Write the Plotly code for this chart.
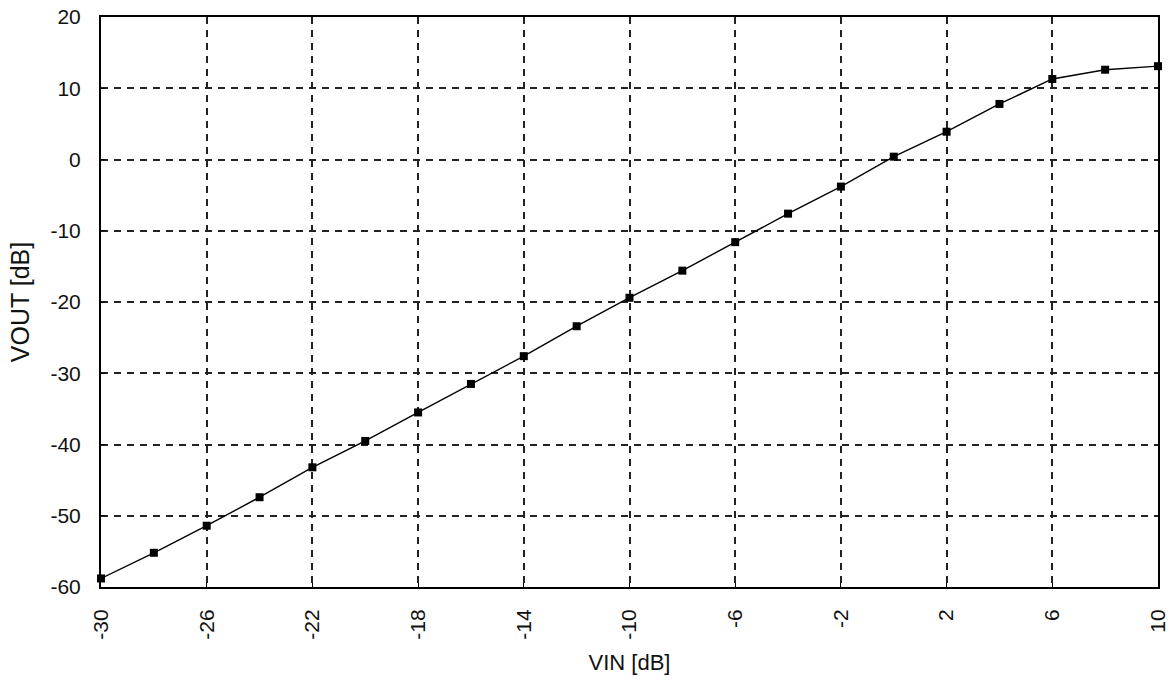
import plotly.graph_objects as go

vin = [-30, -28, -26, -24, -22, -20, -18, -16, -14, -12, -10, -8, -6, -4, -2, 0, 2, 4, 6, 8, 10]
vout = [-58.8, -55.2, -51.4, -47.4, -43.2, -39.5, -35.5, -31.5, -27.6, -23.4, -19.4,
        -15.6, -11.6, -7.6, -3.8, 0.4, 3.9, 7.8, 11.3, 12.6, 13.1]
x_ticks = [-30, -26, -22, -18, -14, -10, -6, -2, 2, 6, 10]
y_ticks = [-60, -50, -40, -30, -20, -10, 0, 10, 20]

fig = go.Figure()
fig.add_trace(go.Scatter(
    x=vin, y=vout, mode="lines+markers",
    line=dict(color="black", width=1.4),
    marker=dict(symbol="square", size=8, color="black"),
    cliponaxis=False, showlegend=False,
))

font = dict(family="Liberation Sans, Arial, sans-serif", size=21, color="#111")
fig.update_layout(
    width=1172, height=687,
    margin=dict(l=101, r=14, t=17, b=100, autoexpand=False),
    paper_bgcolor="white", plot_bgcolor="white",
    font=font,
)
fig.update_xaxes(
    range=[-30, 10], tickvals=x_ticks, ticktext=[str(v) for v in x_ticks],
    tickangle=-90, showgrid=True, gridcolor="#222", gridwidth=1.6, griddash="7px,6px",
    showline=True, linecolor="black", linewidth=2, mirror=True,
    ticks="inside", ticklen=4, tickcolor="black", zeroline=False,
    ticklabelstandoff=12, automargin=False,
    title=dict(text="VIN [dB]", standoff=16, font=dict(size=22)), tickfont=font,
)
fig.update_yaxes(
    range=[-60, 20], tickvals=y_ticks, ticktext=[str(v) for v in y_ticks],
    showgrid=True, gridcolor="#222", gridwidth=1.6, griddash="7px,6px",
    showline=True, linecolor="black", linewidth=2, mirror=True,
    ticks="inside", ticklen=4, tickcolor="black", zeroline=False,
    ticklabelstandoff=14, automargin=False,
    title=dict(text="VOUT [dB]", standoff=14), tickfont=font,
)
fig.write_html("out.html")
